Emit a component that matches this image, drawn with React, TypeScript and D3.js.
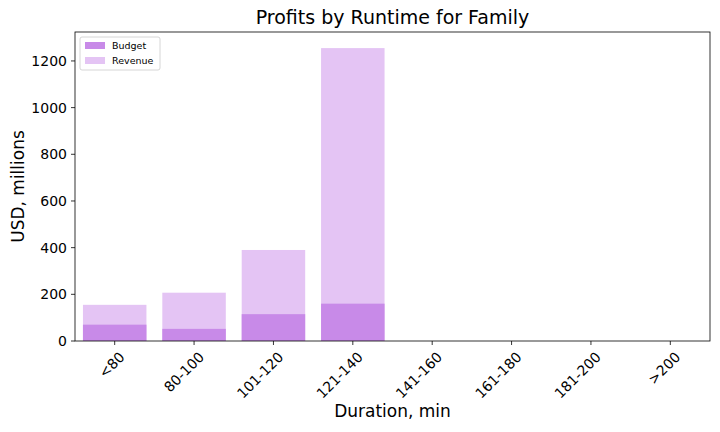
import * as d3 from 'd3'

const categories = ['<80', '80-100', '101-120', '121-140', '141-160', '161-180', '181-200', '>200']
const budget = [70, 52, 115, 160, 0, 0, 0, 0]
const revenue = [155, 207, 390, 1255, 0, 0, 0, 0]
const yTicks = [0, 200, 400, 600, 800, 1000, 1200]

const W = 720
const H = 432
const m = { left: 75, right: 10, top: 32, bottom: 91 }

export default function App() {
  const x = d3
    .scaleLinear()
    .domain([-0.5, categories.length - 0.5])
    .range([m.left, W - m.right])
  const y = d3.scaleLinear().domain([0, 1324]).range([H - m.bottom, m.top])
  const bw = (x(0.4) - x(-0.4))
  const font = 'DejaVu Sans, sans-serif'

  return (
    <svg width={W} height={H} style={{ position: 'absolute', left: 0, top: 0, background: '#fff' }} fontFamily={font}>
      {revenue.map((v, i) => (
        <rect key={'r' + i} x={x(i) - bw / 2} width={bw} y={y(v)} height={y(0) - y(v)} fill="#e4c4f4" />
      ))}
      {budget.map((v, i) => (
        <rect key={'b' + i} x={x(i) - bw / 2} width={bw} y={y(v)} height={y(0) - y(v)} fill="#c88ae8" />
      ))}
      <rect x={m.left} y={m.top} width={W - m.left - m.right} height={H - m.top - m.bottom} fill="none" stroke="#000" strokeWidth={0.8} />
      {yTicks.map((t) => (
        <g key={t} transform={`translate(${m.left},${y(t)})`}>
          <line x2={-4} stroke="#000" strokeWidth={0.8} />
          <text x={-8} dy="0.35em" textAnchor="end" fontSize={14}>{t}</text>
        </g>
      ))}
      {categories.map((c, i) => (
        <g key={c} transform={`translate(${x(i)},${H - m.bottom})`}>
          <line y2={4} stroke="#000" strokeWidth={0.8} />
          <text transform="translate(4,10) rotate(-45)" textAnchor="end" dy="0.7em" fontSize={14}>{c}</text>
        </g>
      ))}
      <text x={(m.left + W - m.right) / 2} y={24} textAnchor="middle" fontSize={19}>Profits by Runtime for Family</text>
      <text x={(m.left + W - m.right) / 2} y={417} textAnchor="middle" fontSize={17}>Duration, min</text>
      <text transform={`translate(24,${(m.top + H - m.bottom) / 2}) rotate(-90)`} textAnchor="middle" fontSize={17}>USD, millions</text>
      <g transform="translate(80,37)">
        <rect width={80} height={33} rx={2} fill="#fff" stroke="#ccc" strokeWidth={0.8} />
        <rect x={5} y={5} width={20} height={7} fill="#c88ae8" />
        <text x={32} y={12} fontSize={9.5}>Budget</text>
        <rect x={5} y={20} width={20} height={7} fill="#e4c4f4" />
        <text x={32} y={27} fontSize={9.5}>Revenue</text>
      </g>
    </svg>
  )
}
